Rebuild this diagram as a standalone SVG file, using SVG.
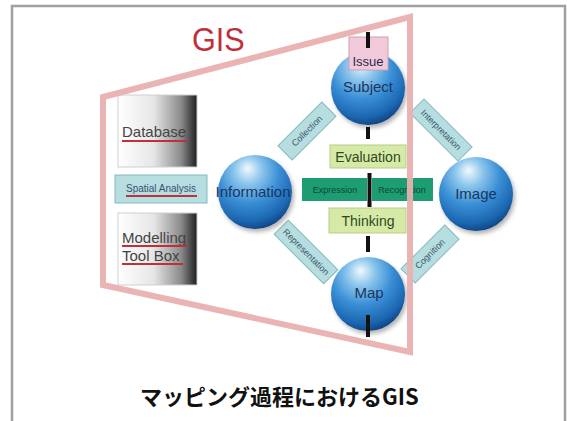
<svg xmlns="http://www.w3.org/2000/svg" width="567" height="421" viewBox="0 0 567 421">
<defs>
<radialGradient id="sph" cx="0.42" cy="0.28" r="0.75" fx="0.4" fy="0.18">
<stop offset="0" stop-color="#f2f9fd"/>
<stop offset="0.25" stop-color="#8cc6ec"/>
<stop offset="0.55" stop-color="#3a8fd6"/>
<stop offset="0.85" stop-color="#1b65b0"/>
<stop offset="1" stop-color="#0d3f7a"/>
</radialGradient>
<linearGradient id="box" x1="0" y1="0" x2="1" y2="0">
<stop offset="0" stop-color="#ffffff"/>
<stop offset="0.45" stop-color="#e6e6e6"/>
<stop offset="0.8" stop-color="#8a8a8a"/>
<stop offset="1" stop-color="#1e1e1e"/>
</linearGradient>
<filter id="sh" x="-20%" y="-20%" width="150%" height="150%">
<feDropShadow dx="2" dy="3" stdDeviation="2" flood-color="#000" flood-opacity="0.3"/>
</filter>
</defs>
<style>
.t{font-family:"Liberation Sans",Arial,sans-serif}
.sph{fill:url(#sph);filter:url(#sh)}
.sl{font-family:"Liberation Sans",Arial,sans-serif;font-size:15px;fill:#1b3560;text-anchor:middle}
.lbl{fill:#b6dde0;stroke:#86b8bf;stroke-width:1}
.lt{font-family:"Liberation Sans",Arial,sans-serif;font-size:9px;fill:#3a5a6a;text-anchor:middle}
.gb{fill:#d6e9a6;stroke:#b5cf86;stroke-width:1}
.gt{font-family:"Liberation Sans",Arial,sans-serif;font-size:14px;fill:#2f4a22;text-anchor:middle}
.dash{stroke:#111;stroke-width:4}
.tool{fill:url(#box);stroke:#cfcfcf;stroke-width:1}
.tt{font-family:"Liberation Sans",Arial,sans-serif;font-size:15px;fill:#444}
.ul{stroke:#c0303a;stroke-width:2}
</style>
<rect width="567" height="421" fill="#fff"/>
<path d="M12,425 V6 H565 V425" fill="none" stroke="#a0a0a0" stroke-width="2.5"/>

<g id="title"><text class="t" x="0" y="51" font-size="34" fill="#c0303a" transform="translate(192,0) scale(0.9,1)">GIS</text></g>

<g id="database">
<rect class="tool" x="118" y="95" width="79" height="72"/>
<text class="tt" x="122" y="137">Database</text>
<line class="ul" x1="122" y1="141" x2="187" y2="141"/>
</g>
<g id="spatial-analysis">
<rect x="115" y="175" width="92" height="28" fill="#b6dde0" stroke="#86b8bf"/>
<text class="t" x="161" y="192" font-size="10" fill="#3a5070" text-anchor="middle">Spatial Analysis</text>
<line class="ul" x1="126" y1="196" x2="197" y2="196" stroke-width="1.5"/>
</g>
<g id="modelling-toolbox">
<rect class="tool" x="118" y="213" width="79" height="72"/>
<text class="tt" x="122" y="243">Modelling</text>
<line class="ul" x1="122" y1="246" x2="187" y2="246"/>
<text class="tt" x="122" y="261">Tool Box</text>
<line class="ul" x1="122" y1="264" x2="183" y2="264"/>
</g>

<g id="connectors">
<line class="dash" x1="368" y1="127" x2="368" y2="139"/>
<line class="dash" x1="368" y1="236" x2="368" y2="252"/>
<g transform="translate(307,131) rotate(-45)"><rect class="lbl" x="-31" y="-10" width="62" height="20"/><text class="lt" y="3">Collection</text></g>
<g transform="translate(441,130) rotate(45)"><rect class="lbl" x="-34" y="-10" width="68" height="20"/><text class="lt" y="3">Interpretation</text></g>
<g transform="translate(306,252) rotate(45)"><rect class="lbl" x="-35" y="-10" width="70" height="20"/><text class="lt" y="3">Representation</text></g>
<g transform="translate(430,254) rotate(-45)"><rect class="lbl" x="-31" y="-10" width="62" height="20"/><text class="lt" y="3">Cognition</text></g>
</g>

<g id="subject"><circle class="sph" cx="368" cy="88" r="37"/><text class="sl" x="368" y="92">Subject</text></g>
<g id="issue"><rect x="349" y="37" width="39" height="33" fill="#f2c9da" stroke="#c9a0b4"/><text class="t" x="368" y="66" font-size="13" fill="#2a2a4a" text-anchor="middle">Issue</text><line class="dash" x1="368" y1="32" x2="368" y2="48"/></g>
<g id="information"><circle class="sph" cx="255" cy="192" r="37"/><text class="sl" x="253" y="197">Information</text></g>
<g id="image"><circle class="sph" cx="476" cy="194" r="37"/><text class="sl" x="476" y="199" font-size="14">Image</text></g>
<g id="map"><circle class="sph" cx="368" cy="294" r="37"/><text class="sl" x="369" y="298" font-size="14.5">Map</text><line class="dash" x1="368" y1="315" x2="368" y2="337"/></g>

<g id="evaluation"><rect class="gb" x="330" y="145" width="76" height="23"/><text class="gt" x="368" y="162">Evaluation</text></g>
<g id="expression-recognition">
<rect x="302" y="178" width="65" height="23" fill="#1e9c72"/>
<rect x="372" y="178" width="61" height="23" fill="#1e9c72"/>
<text class="t" x="335" y="193" font-size="9" fill="#0d4a36" text-anchor="middle">Expression</text>
<text class="t" x="402" y="193" font-size="9" fill="#0d4a36" text-anchor="middle">Recognition</text>
<line class="dash" x1="369.5" y1="173" x2="369.5" y2="207"/>
</g>
<g id="thinking"><rect class="gb" x="329" y="208" width="77" height="25"/><text class="gt" x="368" y="226">Thinking</text></g>

<g id="gis-frame"><polygon points="103,97 410,17 410,352 103,285" fill="none" stroke="#eab0b0" stroke-width="6" stroke-opacity="0.95"/></g>

<g id="caption"><text x="140" y="405" font-family="'Noto Sans CJK JP',sans-serif" font-weight="bold" font-size="22" fill="#111">マッピング過程におけるGIS</text></g>
</svg>
